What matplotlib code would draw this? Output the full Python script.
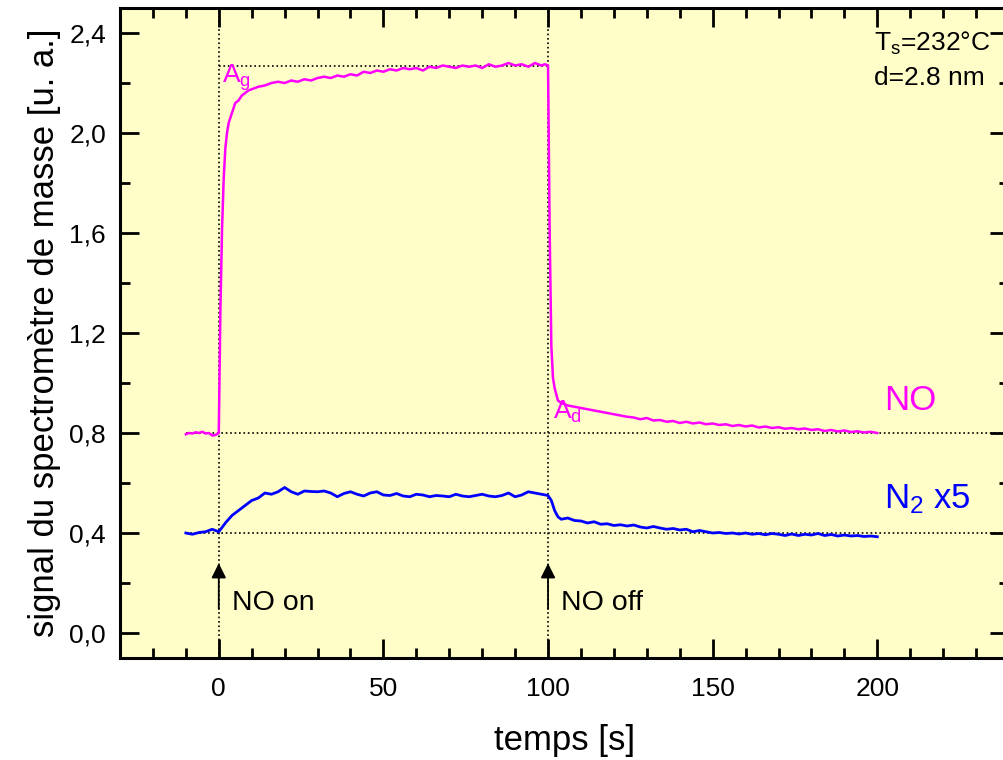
import numpy as np
import matplotlib
matplotlib.use('Agg')
import matplotlib.pyplot as plt
from matplotlib.ticker import MultipleLocator, FuncFormatter

plt.rcParams['font.family'] = ['Liberation Sans', 'DejaVu Sans']
plt.rcParams['mathtext.fontset'] = 'custom'
plt.rcParams['mathtext.rm'] = 'Liberation Sans'
plt.rcParams['mathtext.default'] = 'regular'

# NO signal (sample times and values)
t_no = np.concatenate([np.arange(-10, 1, 1),
                       [0.5, 1, 1.5, 2, 2.5, 3, 4, 5, 6, 7, 8, 9, 10],
                       np.arange(12, 99, 2),
                       [99, 100, 100.5, 101, 101.5, 102, 103, 104, 105, 106],
                       np.arange(108, 201, 2)])
no_signal = [0.795, 0.80, 0.798, 0.803, 0.80, 0.805, 0.798, 0.80, 0.79, 0.792, 0.80,
             1.30, 1.62, 1.82, 1.94, 2.00, 2.04, 2.08, 2.12, 2.13, 2.15, 2.16, 2.17, 2.175,
             2.185, 2.19, 2.20, 2.205, 2.20, 2.21, 2.205, 2.215, 2.21, 2.22,
             2.225, 2.22, 2.23, 2.225, 2.235, 2.23, 2.245, 2.24, 2.25, 2.245,
             2.255, 2.25, 2.26, 2.255, 2.26, 2.25, 2.265, 2.26, 2.27, 2.265,
             2.26, 2.27, 2.265, 2.27, 2.26, 2.275, 2.265, 2.27, 2.28, 2.27,
             2.275, 2.265, 2.28, 2.27,
             2.275, 2.27, 1.60, 1.15, 1.02, 0.98, 0.93, 0.92, 0.915, 0.91,
             0.905, 0.90, 0.895, 0.89, 0.885, 0.88, 0.875, 0.87, 0.865, 0.862,
             0.855, 0.86, 0.85, 0.852, 0.845, 0.848, 0.84, 0.845, 0.838, 0.842,
             0.835, 0.838, 0.832, 0.835, 0.828, 0.832, 0.826, 0.83, 0.822, 0.826,
             0.82, 0.823, 0.817, 0.82, 0.815, 0.818, 0.812, 0.815, 0.808, 0.812,
             0.806, 0.81, 0.804, 0.807, 0.802, 0.805, 0.80]

# N2 signal x5
t_n2 = np.concatenate([np.arange(-10, 101, 2), [101, 102, 103], np.arange(104, 201, 2)])
n2_signal = [0.400, 0.395, 0.402, 0.405, 0.415, 0.405,
             0.44, 0.47, 0.49, 0.51, 0.53, 0.54, 0.56, 0.555, 0.565, 0.582,
             0.565, 0.555, 0.568, 0.566, 0.565, 0.568, 0.56, 0.545, 0.558, 0.565,
             0.555, 0.548, 0.56, 0.565, 0.552, 0.55, 0.558, 0.548, 0.545, 0.555,
             0.552, 0.545, 0.55, 0.548, 0.545, 0.555, 0.548, 0.545, 0.55, 0.555,
             0.548, 0.545, 0.55, 0.56, 0.545, 0.552, 0.565, 0.56, 0.555, 0.55,
             0.53, 0.49, 0.465,
             0.455, 0.46, 0.45, 0.448, 0.44, 0.445, 0.435, 0.437, 0.43, 0.433,
             0.428, 0.432, 0.424, 0.42, 0.426, 0.42, 0.415, 0.418, 0.412, 0.415,
             0.405, 0.41, 0.405, 0.40, 0.402, 0.398, 0.40, 0.396, 0.40, 0.395,
             0.398, 0.393, 0.398, 0.395, 0.39, 0.396, 0.39, 0.395, 0.392, 0.398,
             0.39, 0.394, 0.388, 0.392, 0.388, 0.39, 0.386, 0.388, 0.385]

fig = plt.figure(figsize=(10.04, 7.6), dpi=100)
ax = fig.add_axes([120 / 1004, 102 / 760, 889 / 1004, 650 / 760])
ax.set_facecolor('#FFFDC8')

# reference lines
ax.axvline(0, color='black', ls=':', lw=1.2, zorder=1)
ax.axvline(100, color='black', ls=':', lw=1.2, zorder=1)
ax.hlines([0.8, 0.4], -10, 240, colors='black', linestyles=':', lw=1.2, zorder=1)
ax.hlines(2.27, 0, 100, colors='black', linestyles=':', lw=1.2, zorder=1)

ax.plot(t_no, no_signal, color='#FF00FF', lw=1.8, zorder=3)
ax.plot(t_n2, n2_signal, color='#0000FF', lw=2.0, zorder=3)

ax.set_xlim(-30, 240)
ax.set_ylim(-0.1, 2.5)
ax.xaxis.set_major_locator(MultipleLocator(50))
ax.xaxis.set_minor_locator(MultipleLocator(10))
ax.yaxis.set_major_locator(MultipleLocator(0.4))
ax.yaxis.set_minor_locator(MultipleLocator(0.2))
ax.yaxis.set_major_formatter(FuncFormatter(lambda v, p: ('%.1f' % v).replace('.', ',')))
ax.tick_params(which='both', direction='in', top=True, right=True, width=2, labelsize=19)
ax.tick_params(which='major', length=14)
ax.tick_params(which='minor', length=7)
ax.tick_params(axis='x', which='major', pad=14)
ax.tick_params(axis='y', which='major', pad=10)
for s in ax.spines.values():
    s.set_linewidth(2.2)

ax.set_xlabel('temps [s]', fontsize=25, labelpad=16)
ax.set_ylabel('signal du spectromètre de masse [u. a.]', fontsize=25, labelpad=6)

# arrows
arrow = dict(arrowstyle='-|>', color='black', lw=1.3, mutation_scale=22)
ax.annotate('', xy=(0, 0.29), xytext=(0, 0.085), arrowprops=arrow)
ax.annotate('', xy=(100, 0.29), xytext=(100, 0.085), arrowprops=arrow)
ax.text(4, 0.12, 'NO on', fontsize=20.5, va='center', ha='left')
ax.text(104, 0.12, 'NO off', fontsize=20.5, va='center', ha='left')

ax.text(1, 2.22, r'A$_g$', fontsize=19, color='#FF00FF', va='center', ha='left')
ax.text(101.5, 0.885, r'A$_d$', fontsize=19, color='#FF00FF', va='center', ha='left')
ax.text(202, 0.93, 'NO', fontsize=25, color='#FF00FF', va='center', ha='left')
ax.text(202, 0.535, r'N$_2$ x5', fontsize=25, color='#0000FF', va='center', ha='left')
ax.text(199, 2.36, r'T$_s$=232°C', fontsize=19, va='center', ha='left')
ax.text(199, 2.22, 'd=2.8 nm', fontsize=19, va='center', ha='left')

fig.savefig('out.png', dpi=100)
